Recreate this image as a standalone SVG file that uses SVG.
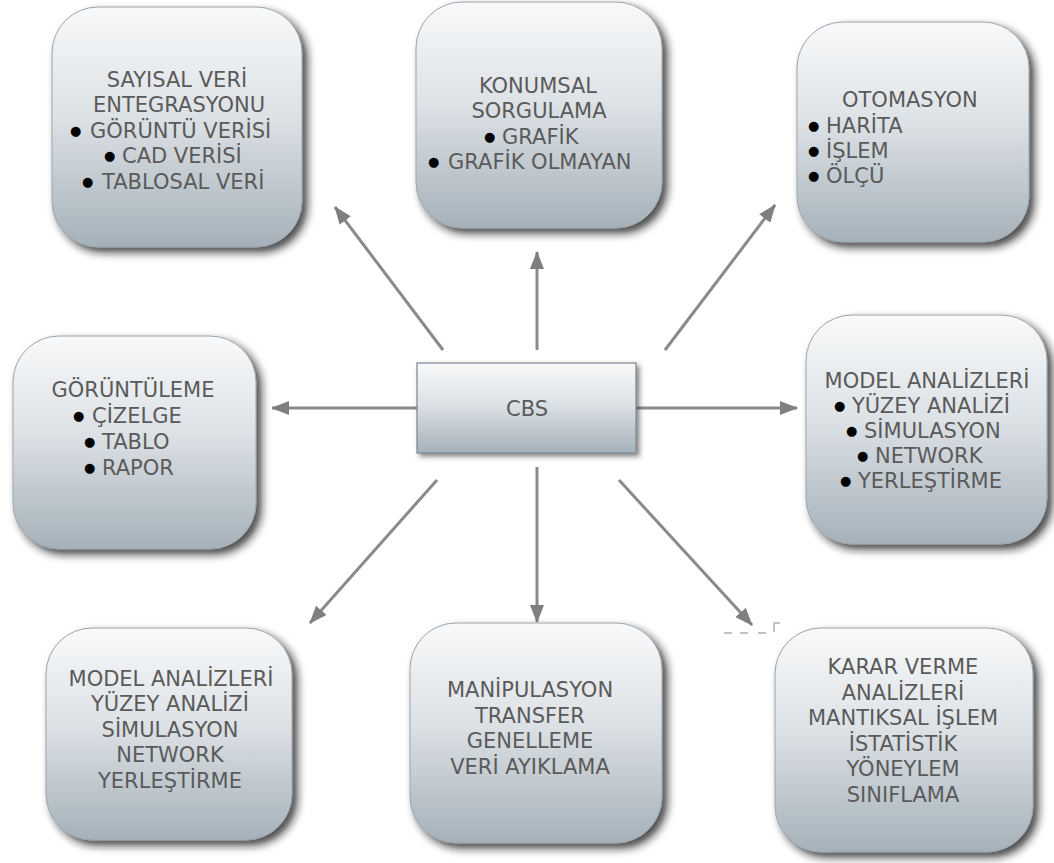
<svg xmlns="http://www.w3.org/2000/svg" width="1054" height="863" viewBox="0 0 1054 863">
<defs>
<linearGradient id="g" x1="0" y1="0" x2="0" y2="1">
<stop offset="0" stop-color="#f8f9fa"/>
<stop offset="0.45" stop-color="#dde2e6"/>
<stop offset="1" stop-color="#a5b1ba"/>
</linearGradient>
<filter id="sh" x="-10%" y="-10%" width="125%" height="125%">
<feDropShadow dx="5" dy="5" stdDeviation="4" flood-color="#1e1e1e" flood-opacity="0.8"/>
</filter>
<filter id="sh2" x="-10%" y="-10%" width="125%" height="130%">
<feDropShadow dx="3" dy="3" stdDeviation="2.5" flood-color="#333" flood-opacity="0.6"/>
</filter>
<marker id="ah" viewBox="0 0 18 14" refX="17" refY="7" markerWidth="18" markerHeight="14" markerUnits="userSpaceOnUse" orient="auto">
<path d="M0,0 L18,7 L0,14 Z" fill="#7f7f7f"/>
</marker>
<style>
.box{fill:url(#g);stroke:#9ba4ab;stroke-width:1;filter:url(#sh)}
.t{font-family:"DejaVu Sans","Liberation Sans",sans-serif;font-size:21px;fill:#5a5a5a}
.c{text-anchor:middle}
.b{fill:#000;font-size:13px}
.ln{stroke:#8a8a8a;stroke-width:3;fill:none;marker-end:url(#ah)}
</style>
</defs>
<rect width="1054" height="863" fill="#ffffff"/>

<g id="connectors">
<line class="ln" x1="443" y1="350" x2="335" y2="207"/>
<line class="ln" x1="537" y1="350" x2="537" y2="252"/>
<line class="ln" x1="665" y1="350" x2="775" y2="205"/>
<line class="ln" x1="417" y1="408" x2="272" y2="408"/>
<line class="ln" x1="636" y1="408" x2="797" y2="408"/>
<line class="ln" x1="437" y1="480" x2="310" y2="623"/>
<line class="ln" x1="537" y1="467" x2="537" y2="622"/>
<line class="ln" x1="619" y1="480" x2="752" y2="625"/>
</g>

<g id="artifact" stroke="#c4c4c4" stroke-width="2" fill="none">
<line x1="724" y1="633" x2="732" y2="633"/>
<line x1="740" y1="633" x2="748" y2="633"/>
<line x1="758" y1="633" x2="766" y2="633"/>
<path d="M774,632 L774,623 L780,623"/>
</g>

<g id="cbs">
<rect x="417" y="363" width="219" height="90" fill="url(#g)" stroke="#7d858b" stroke-width="1.2" filter="url(#sh2)"/>
<text class="t c" x="527" y="416" font-size="20">CBS</text>
</g>

<g id="sayisal">
<rect class="box" x="52" y="7" width="250" height="240" rx="46"/>
<text class="t c" x="177" y="87">SAYISAL VERİ</text>
<text class="t c" x="179" y="112">ENTEGRASYONU</text>
<text class="t" y="138"><tspan class="b" x="70" dy="-3">●</tspan><tspan x="90" dy="3">GÖRÜNTÜ VERİSİ</tspan></text>
<text class="t" y="163"><tspan class="b" x="104" dy="-3">●</tspan><tspan x="122" dy="3">CAD VERİSİ</tspan></text>
<text class="t" y="189"><tspan class="b" x="82" dy="-3">●</tspan><tspan x="102" dy="3">TABLOSAL VERİ</tspan></text>
</g>

<g id="konumsal">
<rect class="box" x="416" y="2" width="246" height="226" rx="46"/>
<text class="t c" x="538" y="93">KONUMSAL</text>
<text class="t c" x="539" y="118">SORGULAMA</text>
<text class="t" y="144"><tspan class="b" x="484" dy="-3">●</tspan><tspan x="502" dy="3">GRAFİK</tspan></text>
<text class="t" y="169"><tspan class="b" x="428" dy="-3">●</tspan><tspan x="448" dy="3">GRAFİK OLMAYAN</tspan></text>
</g>

<g id="otomasyon">
<rect class="box" x="797" y="22" width="232" height="220" rx="46"/>
<text class="t" x="842" y="107">OTOMASYON</text>
<text class="t" y="133"><tspan class="b" x="808" dy="-3">●</tspan><tspan x="826" dy="3">HARİTA</tspan></text>
<text class="t" y="158"><tspan class="b" x="808" dy="-3">●</tspan><tspan x="826" dy="3">İŞLEM</tspan></text>
<text class="t" y="183"><tspan class="b" x="808" dy="-3">●</tspan><tspan x="826" dy="3">ÖLÇÜ</tspan></text>
</g>

<g id="goruntuleme">
<rect class="box" x="13" y="336" width="243" height="213" rx="46"/>
<text class="t c" x="133" y="397">GÖRÜNTÜLEME</text>
<text class="t" y="423"><tspan class="b" x="73" dy="-3">●</tspan><tspan x="92" dy="3">ÇİZELGE</tspan></text>
<text class="t" y="449"><tspan class="b" x="84" dy="-3">●</tspan><tspan x="102" dy="3">TABLO</tspan></text>
<text class="t" y="475"><tspan class="b" x="84" dy="-3">●</tspan><tspan x="102" dy="3">RAPOR</tspan></text>
</g>

<g id="model1">
<rect class="box" x="806" y="315" width="241" height="229" rx="46"/>
<text class="t c" x="927" y="388">MODEL ANALİZLERİ</text>
<text class="t" y="413"><tspan class="b" x="834" dy="-3">●</tspan><tspan x="852" dy="3">YÜZEY ANALİZİ</tspan></text>
<text class="t" y="438"><tspan class="b" x="846" dy="-3">●</tspan><tspan x="864" dy="3">SİMULASYON</tspan></text>
<text class="t" y="463"><tspan class="b" x="857" dy="-3">●</tspan><tspan x="875" dy="3">NETWORK</tspan></text>
<text class="t" y="488"><tspan class="b" x="840" dy="-3">●</tspan><tspan x="858" dy="3">YERLEŞTİRME</tspan></text>
</g>

<g id="model2">
<rect class="box" x="46" y="628" width="246" height="212" rx="46"/>
<text class="t c" x="171" y="686">MODEL ANALİZLERİ</text>
<text class="t c" x="170" y="711">YÜZEY ANALİZİ</text>
<text class="t c" x="170" y="737">SİMULASYON</text>
<text class="t c" x="170" y="762">NETWORK</text>
<text class="t c" x="170" y="788">YERLEŞTİRME</text>
</g>

<g id="manipulasyon">
<rect class="box" x="410" y="623" width="252" height="220" rx="46"/>
<text class="t c" x="530" y="697">MANİPULASYON</text>
<text class="t c" x="530" y="723">TRANSFER</text>
<text class="t c" x="530" y="748">GENELLEME</text>
<text class="t c" x="530" y="774">VERİ AYIKLAMA</text>
</g>

<g id="karar">
<rect class="box" x="775" y="628" width="258" height="224" rx="46"/>
<text class="t c" x="903" y="674">KARAR VERME</text>
<text class="t c" x="903" y="700">ANALİZLERİ</text>
<text class="t c" x="903" y="725">MANTIKSAL İŞLEM</text>
<text class="t c" x="903" y="751">İSTATİSTİK</text>
<text class="t c" x="903" y="776">YÖNEYLEM</text>
<text class="t c" x="903" y="802">SINIFLAMA</text>
</g>
</svg>
